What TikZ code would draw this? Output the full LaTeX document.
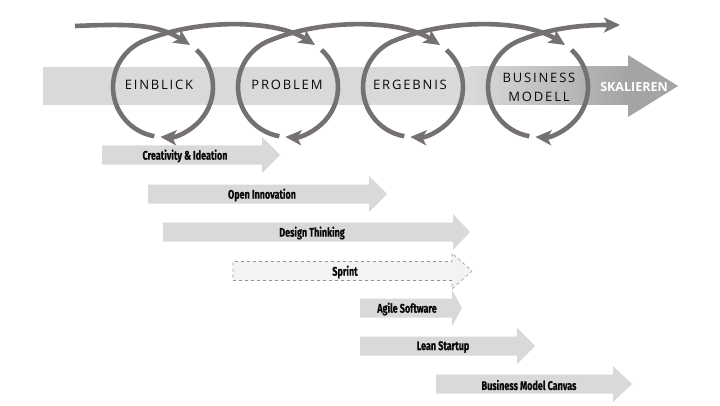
\documentclass[tikz,border=0pt]{standalone}
\usepackage{fontspec}
\setmainfont{Open Sans}
\newfontfamily\labfont[LetterSpace=14]{Open Sans}
\newfontfamily\skalfont{Open Sans}
\newfontfamily\condfont[FakeStretch=0.72,BoldFeatures={FakeBold=0.6}]{Fira Sans}
\usetikzlibrary{arrows.meta}

\definecolor{loopgray}{RGB}{118,113,113}
\definecolor{barlight}{RGB}{217,217,217}
\definecolor{bardark}{RGB}{164,164,164}
\definecolor{sprintfill}{RGB}{243,243,243}
\definecolor{sprintline}{RGB}{150,150,150}
\definecolor{labtext}{RGB}{10,10,10}

% #1 style, #2 x start, #3 x head base, #4 x tip, #5 y centre
\newcommand\fatarrow[5]{%
  \path[#1] (#2,#5-9.5) -- (#3,#5-9.5) -- (#3,#5-18) -- (#4,#5)
    -- (#3,#5+18) -- (#3,#5+9.5) -- (#2,#5+9.5) -- cycle;}

\tikzset{
  loopline/.style={draw=loopgray, line width=4.6pt,
    -{Stealth[length=16pt,width=15pt,inset=4pt]}},
  bigword/.style={font=\labfont\fontsize{13}{15}\selectfont, text=labtext, inner sep=0pt},
  skal/.style={font=\skalfont\bfseries\fontsize{12.5}{14}\selectfont, text=white, inner sep=0pt},
  barword/.style={font=\condfont\bfseries\fontsize{12.5}{14}\selectfont, text=labtext, inner sep=0pt},
  barfill/.style={fill=barlight},
  sprintbar/.style={fill=sprintfill, draw=sprintline, dashed, line width=0.6pt}
}

\begin{document}
\begin{tikzpicture}[x=1pt,y=1pt]
\useasboundingbox[fill=white] (0,0) rectangle (720,405);

% ---- main arrow ----
\fill[barlight] (43,300) rectangle (472,338);
\shade[left color=barlight, right color=bardark] (470,300) rectangle (628.5,338);
\fill[bardark] (628,300) -- (628,288) -- (678,319) -- (628,350) -- (628,338) -- cycle;

\node[bigword] (einblick) at (159,320) {EINBLICK};
\node[bigword] (problem) at (287,320) {PROBLEM};
\node[bigword] (ergebnis) at (410,320) {ERGEBNIS};
\node[bigword] (business) at (539,327.5) {BUSINESS};
\node[bigword] (modell) at (539,308.5) {MODELL};
\node[skal] (skalieren) at (634,318) {SKALIEREN};

% ---- loops ----
\coordinate (c1) at (163,318);
\coordinate (c2) at (288,318);
\coordinate (c3) at (413,318);
\coordinate (c4) at (538,318);
\coordinate (t1) at (190,360);
\coordinate (t2) at (315,360);
\coordinate (t3) at (440,360);
\coordinate (t4) at (565,360);
\coordinate (s0) at (75,379);
\coordinate (e5) at (620,380);

\draw[loopline] (s0) .. controls (125,381) and +(147:40) .. (t1);
\foreach \c/\n in {c1/t2,c2/t3,c3/t4}{
  \draw[loopline] (\c) ++(48:50) arc[start angle=48,end angle=-93,radius=50];
  \draw[loopline] (\c) ++(-100:50) arc[start angle=-100,end angle=-250,radius=50]
     .. controls +(22:60) and +(147:45) .. (\n);
}
\draw[loopline] (c4) ++(48:50) arc[start angle=48,end angle=-93,radius=50];
\draw[loopline] (c4) ++(-100:50) arc[start angle=-100,end angle=-250,radius=50]
   .. controls +(22:40) and +(180:25) .. (e5);

% ---- method bars ----
\fatarrow{barfill}{102}{262}{280}{250}
\node[barword] (creat) at (185,249) {Creativity \& Ideation};

\fatarrow{barfill}{148}{369}{387}{211}
\node[barword] (openinn) at (262,210) {Open Innovation};

\fatarrow{barfill}{163}{453}{470}{173}
\node[barword] (design) at (312,172) {Design Thinking};

\fatarrow{sprintbar}{233}{452}{472}{134}
\node[barword] (sprint) at (345,133) {Sprint};

\fatarrow{barfill}{360}{452}{462}{97}
\node[barword] (agile) at (407,96) {Agile Software};

\fatarrow{barfill}{360}{517}{535}{59}
\node[barword] (lean) at (443,58) {Lean Startup};

\fatarrow{barfill}{436}{613}{632}{21}
\node[barword] (bmc) at (529,20) {Business Model Canvas};
\end{tikzpicture}
\end{document}
